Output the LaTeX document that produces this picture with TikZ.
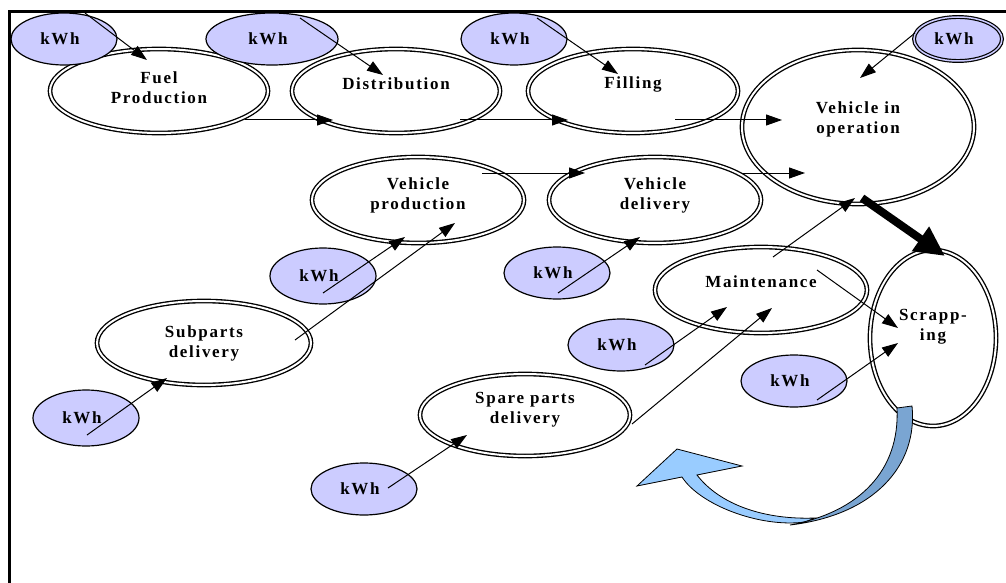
\documentclass[tikz,border=0pt]{standalone}
\usepackage{fontspec}
\setmainfont{Liberation Serif}[LetterSpace=10]
\usetikzlibrary{shapes.geometric,arrows.meta}
\definecolor{kwhfill}{RGB}{204,204,255}
\definecolor{loopfront}{RGB}{153,204,255}
\definecolor{loopback}{RGB}{122,165,210}
\newcommand\stagefont{\bfseries\fontsize{17}{20}\selectfont}
\tikzset{
  stage/.style={ellipse,draw,double,double distance=2pt,line width=1.35pt,fill=white,inner sep=0pt},
  kwh/.style={ellipse,draw,line width=1.2pt,fill=kwhfill,inner sep=0pt,minimum width=106pt,minimum height=52pt,font=\stagefont,execute at end node={\hspace{8pt}}},
  lbl/.style={font=\stagefont,align=center,inner sep=0pt},
  flow/.style={line width=1pt,-{Triangle[length=16pt,width=11pt]}},
}

\begin{document}
\begin{tikzpicture}[x=1pt,y=-1pt]
\useasboundingbox (0,0) rectangle (1006,583);
% process stages
\node[stage,minimum width=218pt,minimum height=84pt] (fuel) at (159,91) {};
\node[lbl] (fuel-t) at ([yshift=3pt]fuel.center) {Fuel\\Production};
\node[stage,minimum width=208pt,minimum height=84pt] (distr) at (396,91) {};
\node[lbl] (distr-t) at ([yshift=7pt]distr.center) {Distribution};
\node[stage,minimum width=210pt,minimum height=84pt] (fill) at (633,91) {};
\node[lbl] (fill-t) at ([yshift=7pt]fill.center) {Filling};
\node[stage,minimum width=232pt,minimum height=154pt] (oper) at (858,127) {};
\node[lbl] (oper-t) at ([yshift=8pt]oper.center) {Vehicle in\\operation};
\node[stage,minimum width=212pt,minimum height=86pt] (vprod) at (418,200) {};
\node[lbl] (vprod-t) at ([yshift=5pt]vprod.center) {Vehicle\\production};
\node[stage,minimum width=212pt,minimum height=86pt] (vdel) at (655,200) {};
\node[lbl] (vdel-t) at ([yshift=5pt]vdel.center) {Vehicle\\delivery};
\node[stage,minimum width=212pt,minimum height=86pt] (maint) at (761,290) {};
\node[lbl] (maint-t) at ([yshift=8pt]maint.center) {Maintenance};
\node[stage,minimum width=126pt,minimum height=176pt] (scrap) at (933,338) {};
\node[lbl] (scrap-t) at ([yshift=11pt]scrap.center) {Scrapp-\\ing};
\node[stage,minimum width=214pt,minimum height=84pt] (subp) at (204,343) {};
\node[lbl] (subp-t) at (subp.center) {Subparts\\delivery};
\node[stage,minimum width=210pt,minimum height=82pt] (spare) at (525,415) {};
\node[lbl] (spare-t) at ([yshift=5pt]spare.center) {Spare parts\\delivery};

% energy inputs
\node[kwh] (kwhA) at (64,39) {kWh};
\node[kwh,minimum width=132pt] (kwhB) at (272,39) {kWh};
\node[kwh] (kwhC) at (514,39) {kWh};
\node[kwh,double=kwhfill,double distance=1.5pt,minimum width=88pt,minimum height=44pt] (kwhD) at (958,39) {kWh};
\node[kwh,minimum height=56pt] (kwhE) at (323,276) {kWh};
\node[kwh] (kwhF) at (557,273) {kWh};
\node[kwh] (kwhG) at (621,345) {kWh};
\node[kwh] (kwhH) at (794,381) {kWh};
\node[kwh,minimum height=56pt] (kwhI) at (86,418) {kWh};
\node[kwh] (kwhJ) at (364,489) {kWh};

% flows
\draw[flow] ([shift={(21,-26)}]kwhA.center) -- ([shift={(-12,-31)}]fuel.center);
\draw[flow] ([shift={(28,-21)}]kwhB.center) -- ([shift={(-13,-16)}]distr.center);
\draw[flow] ([shift={(23,-21)}]kwhC.center) -- ([shift={(-15,-17)}]fill.center);
\draw[flow] ([shift={(-43,-6)}]kwhD.center) -- ([shift={(2,-49)}]oper.center);
\draw[flow] ([shift={(86,29)}]fuel.center) -- ([shift={(-63,29)}]distr.center);
\draw[flow] ([shift={(64,29)}]distr.center) -- ([shift={(-65,29)}]fill.center);
\draw[flow] ([shift={(42,29)}]fill.center) -- ([shift={(-76,-7)}]oper.center);
\draw[flow] ([shift={(64,-27)}]vprod.center) -- ([shift={(-70,-27)}]vdel.center);
\draw[flow] ([shift={(87,-27)}]vdel.center) -- ([shift={(-53,46)}]oper.center);
\draw[flow] ([shift={(12,-33)}]maint.center) -- ([shift={(-3,71)}]oper.center);
\draw[line width=8pt,-{Triangle[length=30pt,width=28pt]}] ([shift={(4,71)}]oper.center) -- ([shift={(12,-82)}]scrap.center);
\draw[flow] ([shift={(56,-20)}]maint.center) -- ([shift={(-35,-10)}]scrap.center);
\draw[flow] ([shift={(23,19)}]kwhH.center) -- ([shift={(-35,5)}]scrap.center);
\draw[flow] ([shift={(24,20)}]kwhG.center) -- ([shift={(-34,17)}]maint.center);
\draw[flow] ([shift={(107,9)}]spare.center) -- ([shift={(11,18)}]maint.center);
\draw[flow] ([shift={(24,-1)}]kwhJ.center) -- ([shift={(-58,20)}]spare.center);
\draw[flow] ([shift={(1,17)}]kwhI.center) -- ([shift={(-37,35)}]subp.center);
\draw[flow] ([shift={(91,-3)}]subp.center) -- ([shift={(37,23)}]vprod.center);
\draw[flow] ([shift={(0,17)}]kwhE.center) -- ([shift={(-13,37)}]vprod.center);
\draw[flow] ([shift={(1,20)}]kwhF.center) -- ([shift={(-15,37)}]vdel.center);

% recycling loop
\draw[fill=loopfront,line width=0.8pt] (805,522) .. controls (760,528) and (700,505) .. (682,477)
  -- (637,486) -- (677,449) -- (742,466) -- (697,475) .. controls (720,505) and (765,520) .. (815,518) -- cycle;
\draw[fill=loopback,line width=0.8pt] (897,408) -- (912,406) .. controls (918,465) and (875,515) .. (790,525)
  .. controls (860,512) and (900,470) .. cycle;

% frame
\draw[line width=3pt] (9,583) -- (9,12) -- (1006,12);
\end{tikzpicture}
\end{document}
